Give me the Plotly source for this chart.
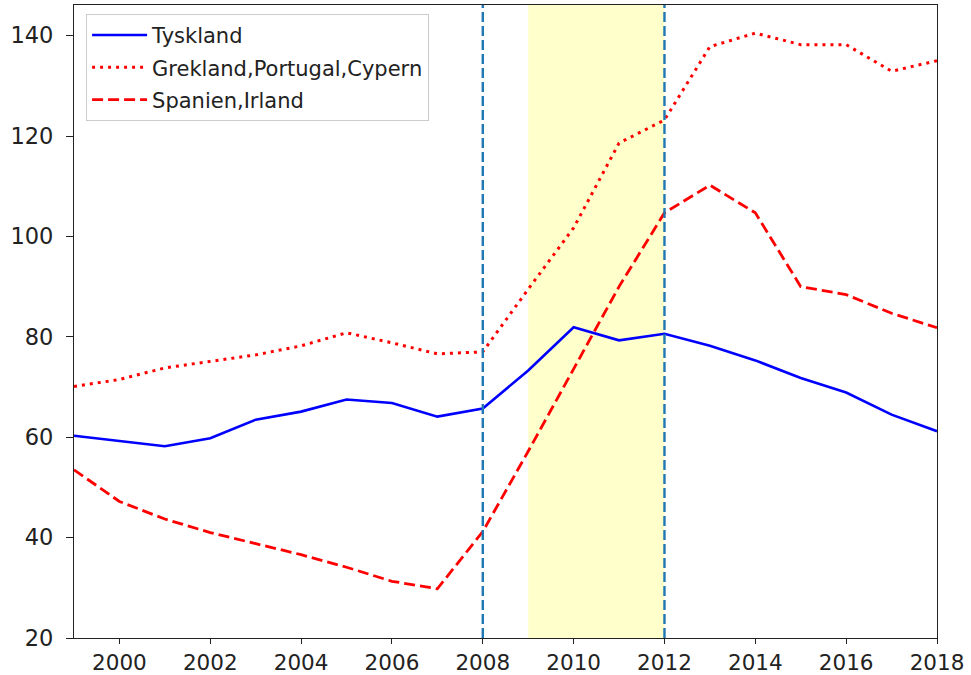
import plotly.graph_objects as go

years = list(range(1999, 2019))
tyskland = [60.3, 59.2, 58.2, 59.8, 63.5, 65.1, 67.5, 66.8, 64.1, 65.7,
            73.3, 81.9, 79.3, 80.6, 78.2, 75.3, 71.8, 68.9, 64.5, 61.2]
grekland_portugal_cypern = [70.1, 71.5, 73.8, 75.1, 76.4, 78.2, 80.8, 78.8, 76.6, 77.0,
                            89.5, 101.7, 118.6, 123.2, 137.8, 140.5, 138.2, 138.2, 132.9, 135.0]
spanien_irland = [53.5, 47.2, 43.7, 41.0, 38.8, 36.6, 34.1, 31.3, 29.8, 41.2,
                  57.2, 73.5, 90.0, 104.7, 110.2, 104.7, 90.0, 88.4, 84.7, 81.8]

names = ["Tyskland", "Grekland,Portugal,Cypern", "Spanien,Irland"]
crisis_lines = [2008, 2012]
shade_span = [2009, 2012]
xticks = list(range(2000, 2019, 2))
yticks = [20, 40, 60, 80, 100, 120, 140]

fig = go.Figure()
fig.add_trace(go.Scatter(x=years, y=tyskland, mode="lines", name=names[0],
                         legendgroup="a",
                         line=dict(color="#0000ff", width=2.6)))
fig.add_trace(go.Scatter(x=years, y=grekland_portugal_cypern, mode="lines", name=names[1],
                         legendgroup="b",
                         line=dict(color="#ff0000", width=3, dash="3px,5px")))
fig.add_trace(go.Scatter(x=years, y=spanien_irland, mode="lines", name=names[2],
                         legendgroup="c",
                         line=dict(color="#ff0000", width=2.8, dash="11px,5px")))

fig.add_shape(type="rect", xref="x", yref="paper", x0=shade_span[0], x1=shade_span[1],
              y0=0, y1=1, fillcolor="rgba(255,255,0,0.2)", line=dict(width=0), layer="below")
for xv in crisis_lines:
    fig.add_shape(type="line", xref="x", yref="paper", x0=xv, x1=xv, y0=0, y1=1,
                  line=dict(color="#1f77b4", width=2.4, dash="10px,4px"))

font = "DejaVu Sans"
fig.update_layout(
    width=971, height=675,
    margin=dict(l=74, r=34, t=5, b=37, autoexpand=False),
    paper_bgcolor="white", plot_bgcolor="white",
    font=dict(family=font, color="#222222"),
    showlegend=True,
    legend=dict(x=0.014, y=0.986, xanchor="left", yanchor="top",
                bgcolor="rgba(255,255,255,0.8)", bordercolor="#cccccc", borderwidth=1,
                font=dict(family=font, size=21, color="#222222"),
                tracegroupgap=2, itemwidth=55),
)
fig.update_xaxes(range=[1999, 2018], tickvals=xticks, showgrid=False, zeroline=False,
                 showline=True, mirror=True, linecolor="#222222", linewidth=1.2,
                 ticks="outside", ticklen=5, tickcolor="#222222", tickwidth=1.2,
                 tickfont=dict(family=font, size=21.5, color="#222222"),
                 ticklabelstandoff=0, automargin=False)
fig.update_yaxes(range=[20, 146.1], tickvals=yticks, showgrid=False, zeroline=False,
                 showline=True, mirror=True, linecolor="#222222", linewidth=1.2,
                 ticks="outside", ticklen=7, tickcolor="#222222", tickwidth=1.2,
                 tickfont=dict(family=font, size=22.5, color="#222222"),
                 ticklabelstandoff=8, automargin=False)

fig.write_html("out.html", config={"displayModeBar": False},
               post_script="document.body.style.margin='0px';")
